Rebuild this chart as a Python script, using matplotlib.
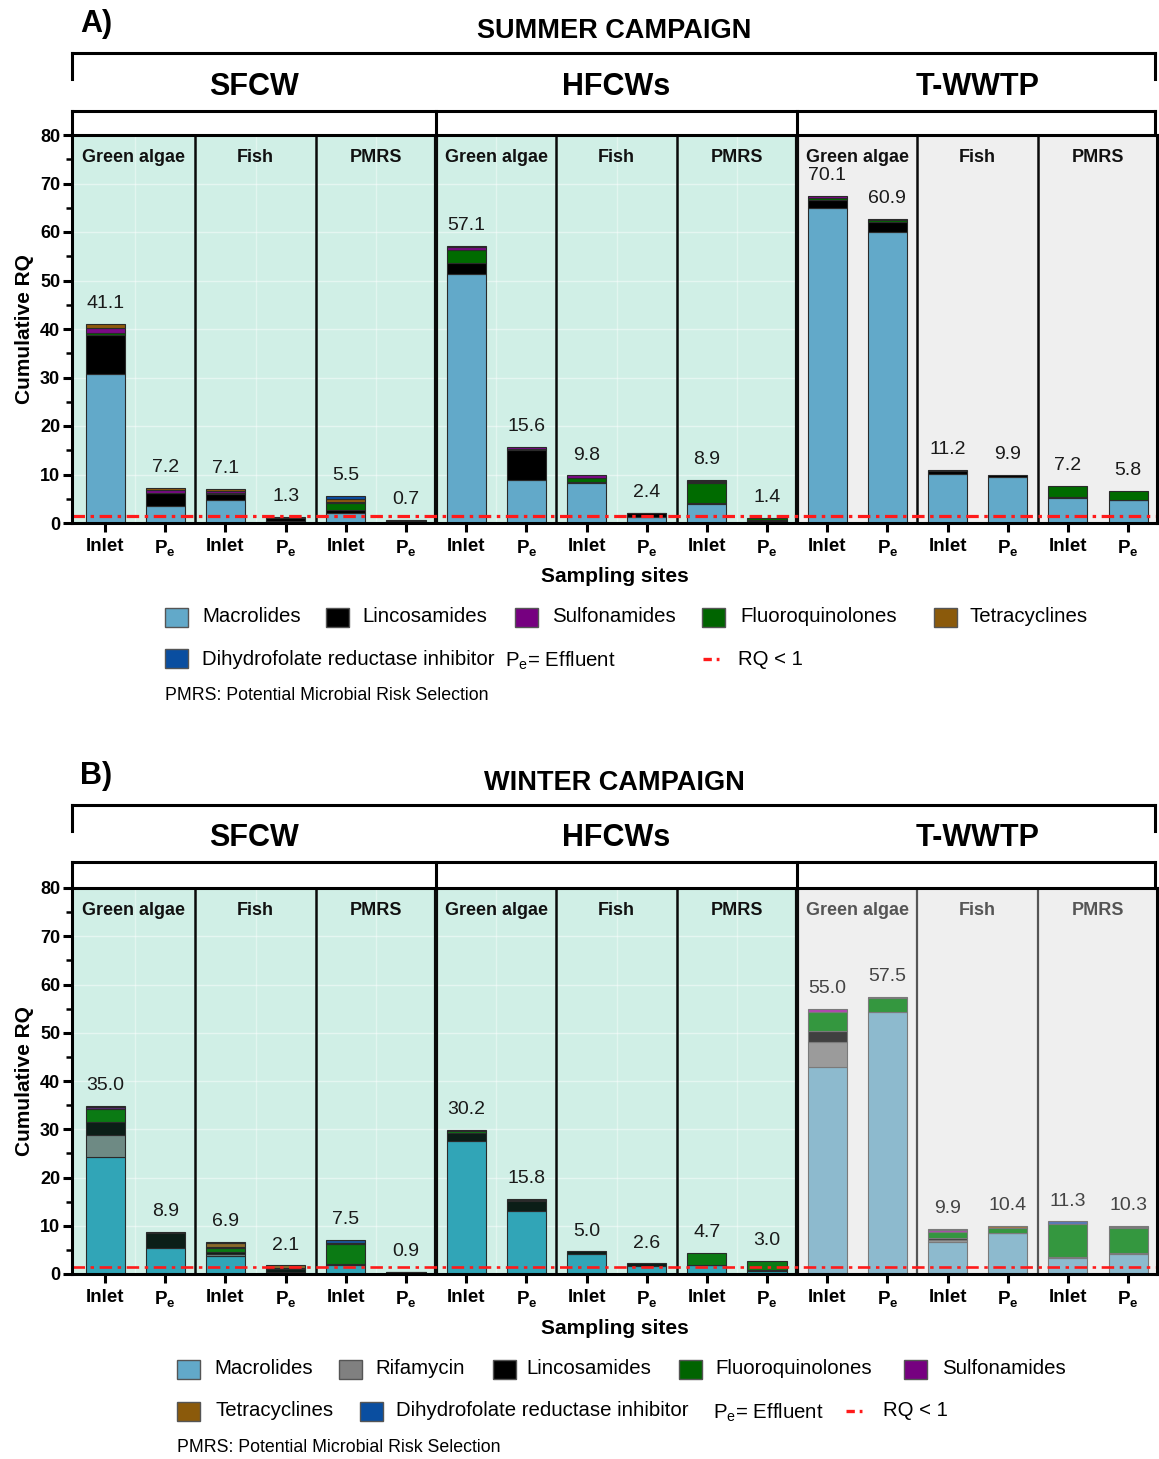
import matplotlib
matplotlib.use('Agg')
import matplotlib.pyplot as plt
import numpy as np
from matplotlib.patches import Rectangle
from matplotlib.lines import Line2D
from matplotlib.transforms import blended_transform_factory

plt.rcParams['font.family'] = ['Liberation Sans', 'DejaVu Sans']
plt.rcParams['mathtext.default'] = 'regular'
plt.rcParams['lines.scale_dashes'] = False

# ---------------- data ----------------
groups = ['SFCW', 'HFCWs', 'T-WWTP']
endpoints = ['Green algae', 'Fish', 'PMRS']
sites = ['Inlet', 'P$_e$'] * 9

# Summer campaign (18 bars: group x endpoint x site)
s_macrolides = [30.7, 3.5, 4.8, 0.4, 2.1, 0.1, 51.3, 8.8, 8.2, 1.3, 3.9, 0.5, 65.0, 60.1, 10.2, 9.5, 5.2, 4.7]
s_lincosamides = [8.0, 2.6, 1.2, 0.7, 0.5, 0.3, 2.4, 6.3, 0.3, 0.7, 0.2, 0.2, 1.7, 1.9, 0.6, 0.5, 0.1, 0.1]
s_fluoroquinolones = [0.4, 0.1, 0.1, 0.0, 1.5, 0.1, 2.5, 0.1, 0.8, 0.1, 4.2, 0.4, 0.4, 0.4, 0.1, 0.0, 2.4, 1.8]
s_sulfonamides = [1.2, 0.6, 0.4, 0.0, 0.2, 0.0, 0.7, 0.4, 0.5, 0.0, 0.2, 0.0, 0.3, 0.3, 0.0, 0.0, 0.0, 0.0]
s_tetracyclines = [0.8, 0.4, 0.5, 0.2, 0.6, 0.2, 0.2, 0.0, 0.0, 0.0, 0.2, 0.0, 0.0, 0.0, 0.0, 0.0, 0.0, 0.0]
s_dhfr = [0.0, 0.0, 0.0, 0.0, 0.6, 0.0, 0.0, 0.0, 0.0, 0.0, 0.1, 0.0, 0.0, 0.0, 0.0, 0.0, 0.0, 0.0]
s_labels = ['41.1', '7.2', '7.1', '1.3', '5.5', '0.7', '57.1', '15.6', '9.8', '2.4', '8.9', '1.4',
            '70.1', '60.9', '11.2', '9.9', '7.2', '5.8']

# Winter campaign
w_macrolides = [24.2, 5.4, 3.7, 0.5, 1.9, 0.2, 27.6, 13.1, 4.1, 1.7, 1.8, 0.7, 42.8, 54.4, 6.6, 8.5, 3.3, 4.2]
w_rifamycin = [4.7, 0.0, 0.5, 0.0, 0.1, 0.0, 0.0, 0.0, 0.0, 0.0, 0.0, 0.0, 5.2, 0.0, 0.5, 0.0, 0.0, 0.0]
w_lincosamides = [2.7, 3.1, 0.4, 0.6, 0.1, 0.2, 1.6, 2.0, 0.6, 0.5, 0.1, 0.1, 2.3, 0.0, 0.3, 0.1, 0.3, 0.1]
w_fluoroquinolones = [2.5, 0.0, 0.8, 0.2, 4.2, 0.1, 0.4, 0.3, 0.0, 0.0, 2.5, 1.9, 4.1, 2.8, 1.4, 0.9, 6.8, 5.2]
w_sulfonamides = [0.6, 0.1, 0.2, 0.0, 0.1, 0.0, 0.3, 0.1, 0.0, 0.0, 0.0, 0.0, 0.5, 0.3, 0.3, 0.0, 0.0, 0.2]
w_tetracyclines = [0.2, 0.0, 0.9, 0.5, 0.1, 0.0, 0.0, 0.0, 0.0, 0.0, 0.0, 0.0, 0.0, 0.0, 0.3, 0.4, 0.0, 0.0]
w_dhfr = [0.0, 0.1, 0.1, 0.0, 0.6, 0.0, 0.0, 0.0, 0.0, 0.0, 0.0, 0.0, 0.0, 0.0, 0.0, 0.0, 0.5, 0.3]
w_labels = ['35.0', '8.9', '6.9', '2.1', '7.5', '0.9', '30.2', '15.8', '5.0', '2.6', '4.7', '3.0',
            '55.0', '57.5', '9.9', '10.4', '11.3', '10.3']

rq_threshold = 1.5

# ---------------- styles ----------------
MINT = '#d0efe6'
GRAY = '#efefef'
C_SUMMER = {'Macrolides': '#62a9c9', 'Lincosamides': '#000000', 'Fluoroquinolones': '#006b00',
            'Sulfonamides': '#7a0a85', 'Tetracyclines': '#8e5a0c',
            'Dihydrofolate reductase inhibitor': '#0a4da3'}
C_WIN_L = {'Macrolides': '#31a5b7', 'Rifamycin': '#6e8a84', 'Lincosamides': '#0b1e17',
           'Fluoroquinolones': '#0b7a14', 'Sulfonamides': '#5b2a78', 'Tetracyclines': '#8a6a2a',
           'Dihydrofolate reductase inhibitor': '#1b5596'}
C_WIN_R = {'Macrolides': '#8dbace', 'Rifamycin': '#9b9b9b', 'Lincosamides': '#404040',
           'Fluoroquinolones': '#34973f', 'Sulfonamides': '#b048b0', 'Tetracyclines': '#a0764a',
           'Dihydrofolate reductase inhibitor': '#5a78b8'}
LEG = {'Macrolides': '#62a9c9', 'Rifamycin': '#808080', 'Lincosamides': '#000000',
       'Fluoroquinolones': '#006400', 'Sulfonamides': '#760080', 'Tetracyclines': '#8b5a0b',
       'Dihydrofolate reductase inhibitor': '#0a4ea0'}

W, H = 1159, 1459
fig = plt.figure(figsize=(W / 100, H / 100), dpi=100)


def fx(px):
    return px / W


def fy(py):
    return 1 - py / H


XL, XR = -0.55, 17.48


def draw_panel(ax, series, cmap_left, cmap_right, labels, faded, red_lw):
    x = np.arange(len(sites))
    ax.set_xlim(XL, XR)
    ax.set_ylim(0, 80)
    ax.axvspan(XL, 11.5, color=MINT, zorder=0, lw=0)
    ax.axvspan(11.5, XR, color=GRAY, zorder=0, lw=0)
    # faint grid
    for yv in range(10, 80, 10):
        ax.plot([XL, 11.5], [yv, yv], color='white', lw=1.0, alpha=0.45, zorder=1)
    for xv in np.arange(0.5, 11.5, 2):
        ax.axvline(xv, color='white', lw=1.0, alpha=0.4, zorder=1)
    bottom = np.zeros(len(x))
    for name, vals in series:
        vals = np.asarray(vals, dtype=float)
        for i in range(len(x)):
            if vals[i] <= 0:
                continue
            right = faded and i >= 12
            col = cmap_right[name] if right else cmap_left[name]
            ec = '#7a7a7a' if right else '#2a2a2a'
            ax.bar(x[i], vals[i], bottom=bottom[i], width=0.65, color=col,
                   edgecolor=ec, linewidth=0.8, zorder=3)
        bottom += vals
    for i in range(len(x)):
        col = '#444444' if (faded and i >= 12) else '#1a1a1a'
        ax.text(x[i], bottom[i] + 4.2, labels[i], ha='center', va='center',
                fontsize=14, color=col, zorder=6)
    # dividers
    for xv in [1.5, 3.5, 7.5, 9.5, 13.5, 15.5]:
        if faded and xv > 11.5:
            ax.axvline(xv, color='#555555', lw=1.6, zorder=4)
        else:
            ax.axvline(xv, color='#0a0a0a', lw=1.8, zorder=4)
    for xv in [5.5, 11.5]:
        ax.axvline(xv, color='#0a0a0a', lw=3.0, zorder=4)
    # sub-panel labels
    centers = [(XL + 1.5) / 2, 2.5, 4.5, 6.5, 8.5, 10.5, 12.5, 14.5, 16.5]
    for k, c in enumerate(centers):
        col = '#555555' if (faded and k >= 6) else '#111111'
        ax.text(c, 75.3, endpoints[k % 3], ha='center', va='center', fontsize=13,
                fontweight='bold', color=col, zorder=6)
    # threshold line
    ax.axhline(rq_threshold, color='#ff1a1a', lw=red_lw, dashes=(9, 4, 2.5, 4), zorder=5)
    # axes styling
    ax.set_xticks(x)
    ax.set_xticklabels(sites, fontsize=13.5, fontweight='bold')
    ax.set_yticks(range(0, 81, 10))
    ax.set_yticks(range(5, 80, 10), minor=True)
    ax.tick_params(axis='y', which='major', length=6.5, width=2.2, labelsize=13, pad=2)
    ax.tick_params(axis='y', which='minor', length=4, width=1.8)
    ax.tick_params(axis='x', which='major', length=6.5, width=2.2, pad=4)
    for lab in ax.get_yticklabels():
        lab.set_fontweight('bold')
    for sp in ax.spines.values():
        sp.set_linewidth(2.2)
        sp.set_zorder(7)
    ax.text(-0.044, 0.5, 'Cumulative RQ', transform=ax.transAxes, rotation=90,
            ha='center', va='center', fontsize=15, fontweight='bold')


def draw_header(ax, letter, title, y_title, y_line1, y_end1, y_group, y_line2, y_axtop):
    tr = blended_transform_factory(ax.transData, fig.transFigure)
    lw = 2.2
    xr = 17.44
    fig.add_artist(Line2D([XL, xr], [fy(y_line1), fy(y_line1)], transform=tr, color='black', lw=lw))
    for xv in [XL, xr]:
        fig.add_artist(Line2D([xv, xv], [fy(y_line1), fy(y_end1)], transform=tr, color='black', lw=lw))
    fig.add_artist(Line2D([XL, xr], [fy(y_line2), fy(y_line2)], transform=tr, color='black', lw=lw))
    for xv in [XL, 5.5, 11.5, xr]:
        fig.add_artist(Line2D([xv, xv], [fy(y_line2), fy(y_axtop)], transform=tr, color='black', lw=lw))
    gcent = [(XL + 5.5) / 2, 8.5, (11.5 + XR) / 2]
    for g, c in zip(groups, gcent):
        fig.text(c, fy(y_group), g, transform=tr, ha='center', va='center',
                 fontsize=22, fontweight='bold')
    fig.text(fx(614), fy(y_title), title, ha='center', va='center', fontsize=19.5, fontweight='bold')
    fig.text(fx(80), fy(y_title - 7), letter, ha='left', va='center', fontsize=22, fontweight='bold')


def legend_square(xpx, ypx, color, label, xtext):
    fig.patches.append(Rectangle((fx(xpx), fy(ypx + 9.5)), 23 / W, 19 / H, transform=fig.transFigure,
                                 facecolor=color, edgecolor='#555555', lw=1.0))
    fig.text(fx(xtext), fy(ypx), label, fontsize=14.7, va='center', ha='left')


def legend_rq(x0, x1, ypx, xtext):
    fig.add_artist(Line2D([fx(x0), fx(x1)], [fy(ypx), fy(ypx)], transform=fig.transFigure,
                          color='#ff1a1a', lw=2.4, dashes=(6, 3.5, 2, 3.5)))
    fig.text(fx(xtext), fy(ypx), 'RQ < 1', fontsize=14.7, va='center', ha='left')


# ---------------- top panel ----------------
ax_top = fig.add_axes([fx(72), fy(523), fx(1157) - fx(72), fy(135) - fy(523)])
summer_series = [('Macrolides', s_macrolides), ('Lincosamides', s_lincosamides),
                 ('Fluoroquinolones', s_fluoroquinolones), ('Sulfonamides', s_sulfonamides),
                 ('Tetracyclines', s_tetracyclines), ('Dihydrofolate reductase inhibitor', s_dhfr)]
draw_panel(ax_top, summer_series, C_SUMMER, C_SUMMER, s_labels, False, 2.3)
ax_top.text(0.5, -0.139, 'Sampling sites', transform=ax_top.transAxes, ha='center', va='center',
            fontsize=15, fontweight='bold')
draw_header(ax_top, 'A)', 'SUMMER CAMPAIGN', 31, 53, 79, 87, 111, 135)

legend_square(165, 617, LEG['Macrolides'], 'Macrolides', 202)
legend_square(326, 617, LEG['Lincosamides'], 'Lincosamides', 362)
legend_square(515, 617, LEG['Sulfonamides'], 'Sulfonamides', 552)
legend_square(702, 617, LEG['Fluoroquinolones'], 'Fluoroquinolones', 740)
legend_square(934, 617, LEG['Tetracyclines'], 'Tetracyclines', 970)
legend_square(165, 659, LEG['Dihydrofolate reductase inhibitor'], 'Dihydrofolate reductase inhibitor', 202)
fig.text(fx(505), fy(661), 'P$_e$= Effluent', fontsize=14.7, va='center', ha='left')
legend_rq(703, 722, 659, 738)
fig.text(fx(165), fy(696), 'PMRS: Potential Microbial Risk Selection', fontsize=12.8, va='center', ha='left')

# ---------------- bottom panel ----------------
ax_bot = fig.add_axes([fx(72), fy(1274), fx(1157) - fx(72), fy(888) - fy(1274)])
winter_series = [('Macrolides', w_macrolides), ('Rifamycin', w_rifamycin),
                 ('Lincosamides', w_lincosamides), ('Fluoroquinolones', w_fluoroquinolones),
                 ('Sulfonamides', w_sulfonamides), ('Tetracyclines', w_tetracyclines),
                 ('Dihydrofolate reductase inhibitor', w_dhfr)]
draw_panel(ax_bot, winter_series, C_WIN_L, C_WIN_R, w_labels, True, 1.9)
ax_bot.text(0.5, -0.142, 'Sampling sites', transform=ax_bot.transAxes, ha='center', va='center',
            fontsize=15, fontweight='bold')
draw_header(ax_bot, 'B)', 'WINTER CAMPAIGN', 783, 805, 831, 838, 862, 888)

legend_square(177, 1369, LEG['Macrolides'], 'Macrolides', 214)
legend_square(339, 1369, LEG['Rifamycin'], 'Rifamycin', 375)
legend_square(493, 1369, LEG['Lincosamides'], 'Lincosamides', 526)
legend_square(679, 1369, LEG['Fluoroquinolones'], 'Fluoroquinolones', 715)
legend_square(904, 1369, LEG['Sulfonamides'], 'Sulfonamides', 942)
legend_square(177, 1411, LEG['Tetracyclines'], 'Tetracyclines', 215)
legend_square(360, 1411, LEG['Dihydrofolate reductase inhibitor'], 'Dihydrofolate reductase inhibitor', 396)
fig.text(fx(713), fy(1413), 'P$_e$= Effluent', fontsize=14.7, va='center', ha='left')
legend_rq(846, 865, 1411, 883)
fig.text(fx(177), fy(1448), 'PMRS: Potential Microbial Risk Selection', fontsize=12.8, va='center', ha='left')

fig.savefig('out.png', dpi=100)
